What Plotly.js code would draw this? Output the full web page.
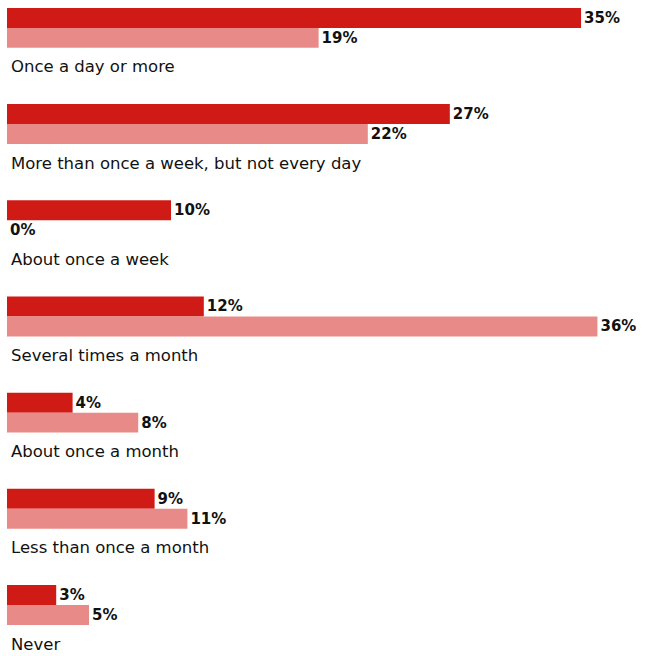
<!DOCTYPE html>
<html>
<head>
<meta charset="utf-8">
<script src="https://cdn.plot.ly/plotly-3.0.1.min.js"></script>
<style>html,body{margin:0;padding:0;background:#fff;}#chart{width:645px;height:656px;}</style>
</head>
<body>
<div id="chart"></div>
<script>
const categories = [
  "Once a day or more",
  "More than once a week, but not every day",
  "About once a week",
  "Several times a month",
  "About once a month",
  "Less than once a month",
  "Never"
];
const seriesA = [35, 27, 10, 12, 4, 9, 3];
const seriesB = [19, 22, 0, 36, 8, 11, 5];

const valueFont = {family: "DejaVu Sans, sans-serif", size: 15, color: "#111", weight: "bold"};

const traceA = {
  type: "bar", orientation: "h",
  y: categories, x: seriesA,
  text: seriesA.map(v => v + "%"),
  textposition: "outside", cliponaxis: false,
  textfont: valueFont,
  marker: {color: "#d01a16"},
  hoverinfo: "skip"
};
const traceB = {
  type: "bar", orientation: "h",
  y: categories, x: seriesB,
  text: seriesB.map(v => v + "%"),
  textposition: "outside", cliponaxis: false,
  textfont: valueFont,
  marker: {color: "#e88b88"},
  hoverinfo: "skip"
};

const annotations = categories.map(c => ({
  x: 0, y: c, xref: "x", yref: "y",
  text: c, showarrow: false,
  xanchor: "left", yanchor: "middle",
  xshift: 3, yshift: -39, borderpad: 0,
  font: {family: "DejaVu Sans, sans-serif", size: 16.5, color: "#111"}
}));

const layout = {
  width: 645, height: 656,
  margin: {l: 7, r: 0, t: 0, b: 0},
  paper_bgcolor: "#fff", plot_bgcolor: "#fff",
  barmode: "group", bargap: 0.585, bargroupgap: 0,
  showlegend: false,
  xaxis: {range: [0, 38.9], visible: false, fixedrange: true},
  yaxis: {range: [6.53, -0.29], visible: false, fixedrange: true, type: "category"},
  annotations: annotations
};

Plotly.newPlot("chart", [traceA, traceB], layout, {displayModeBar: false, staticPlot: true});
</script>
</body>
</html>
